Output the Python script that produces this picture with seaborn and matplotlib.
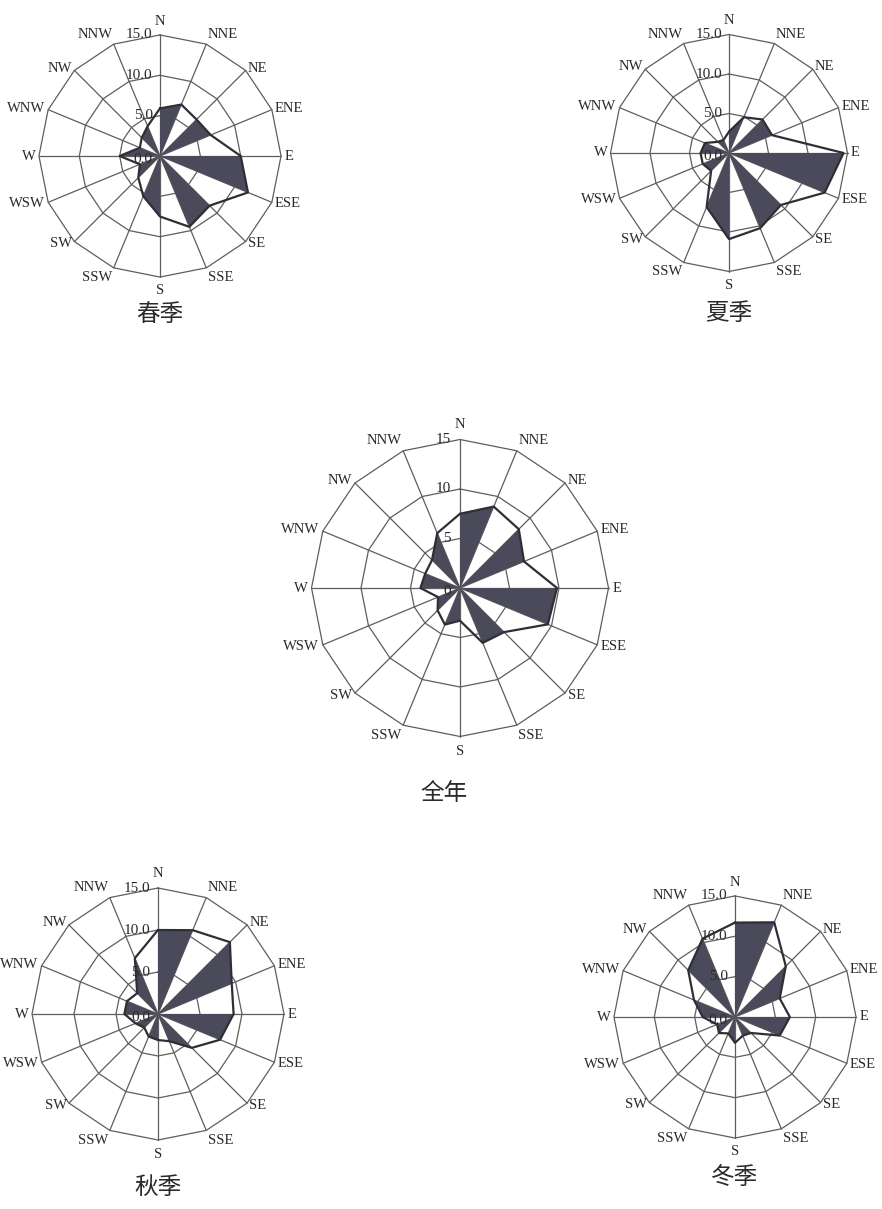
import numpy as np
import pandas as pd
import matplotlib
matplotlib.use("Agg")
import matplotlib.pyplot as plt
import seaborn as sns

# 16 wind directions, clockwise from north
directions = ['N', 'NNE', 'NE', 'ENE', 'E', 'ESE', 'SE', 'SSE',
              'S', 'SSW', 'SW', 'WSW', 'W', 'WNW', 'NW', 'NNW']

# wind frequency (%)
spring = [5.9, 6.9, 6.4, 6.8, 10.0, 11.8, 8.7, 9.5, 7.5, 5.4, 3.8, 2.7, 5.0, 2.7, 3.2, 4.0]
summer = [2.7, 4.9, 6.0, 5.9, 14.5, 13.1, 9.3, 10.3, 10.9, 7.4, 3.2, 3.6, 3.6, 3.3, 2.0, 1.8]
annual = [7.5, 8.9, 8.4, 7.0, 9.8, 9.6, 6.3, 6.0, 3.3, 4.0, 3.2, 2.4, 4.0, 3.8, 4.0, 6.0]
autumn = [10.0, 10.8, 12.1, 9.5, 9.0, 8.0, 5.7, 3.5, 3.1, 2.9, 2.3, 2.9, 4.0, 4.0, 3.5, 7.2]
winter = [11.7, 12.7, 8.9, 6.0, 6.8, 6.0, 2.8, 2.5, 3.2, 2.2, 2.8, 2.4, 4.0, 5.5, 8.2, 10.5]

seasons = ['春季', '夏季', '全年', '秋季', '冬季']
ring_values = [5, 10, 15]

sns.set_theme(style="white")
plt.rcParams['font.family'] = ['Liberation Serif', 'DejaVu Serif']

W, H = 882, 1209
fig = plt.figure(figsize=(W / 100, H / 100), dpi=100)

FILL = '#4a4a5b'
LINE = '#2e2e36'
GRID = '#5e5e5e'
TXT = '#2a2a2a'


def rose(values, title, cx, cy, scale, title_r, title_dx=0.0, decimals=True):
    half = 21
    size = 2 * half * scale
    ax = fig.add_axes([(cx - size / 2) / W, 1 - (cy + size / 2) / H, size / W, size / H])
    ax.set_xlim(-half, half)
    ax.set_ylim(-half, half)
    ax.set_aspect('equal')
    ax.axis('off')

    theta = np.deg2rad(np.arange(16) * 22.5)
    sx, cy_ = np.sin(theta), np.cos(theta)

    # polygon grid rings and spokes
    for rv in ring_values:
        ax.plot(np.append(rv * sx, rv * sx[0]), np.append(rv * cy_, rv * cy_[0]),
                color=GRID, lw=0.9, zorder=1)
    for i in range(16):
        ax.plot([0, 15 * sx[i]], [0, 15 * cy_[i]], color=GRID, lw=0.9, zorder=1)

    r = np.asarray(values)
    px, py = r * sx, r * cy_
    # alternate filled triangles between neighbouring directions
    for i in range(0, 16, 2):
        j = (i + 1) % 16
        ax.fill([0, px[i], px[j]], [0, py[i], py[j]], color=FILL, lw=0, zorder=2)

    df = pd.DataFrame({'x': np.append(px, px[0]), 'y': np.append(py, py[0])})
    sns.lineplot(data=df, x='x', y='y', sort=False, estimator=None, ax=ax,
                 color=LINE, lw=1.6, zorder=3)
    ax.set_xlabel('')
    ax.set_ylabel('')

    # ring labels
    for rv in [0] + ring_values:
        lab = f'{rv:.1f}' if decimals else f'{rv}'
        yy = rv if rv else -0.4
        ax.text(-0.9, yy, lab, ha='right', va='center', fontsize=11, color=TXT, zorder=4)

    # direction labels
    for i, d in enumerate(directions):
        s, c = sx[i], cy_[i]
        ha = 'left' if s > 0.2 else ('right' if s < -0.2 else 'center')
        va = 'bottom' if c > 0.9 else ('top' if c < -0.9 else 'center')
        rr = 15.4 if abs(s) > 0.2 else 15.9
        ax.text(rr * s, rr * c, d, ha=ha, va=va, fontsize=10.5, color=TXT)

    ax.text(title_dx, -title_r, title, ha='center', va='center', fontsize=17,
            color=TXT, family=['Noto Sans CJK SC', 'DejaVu Sans'], fontweight='light')


rose(spring, seasons[0], 160, 156, 8.07, 19.6)
rose(summer, seasons[1], 729, 153, 7.9, 20.3)
rose(annual, seasons[2], 460, 588, 9.9, 20.8, title_dx=-1.6, decimals=False)
rose(autumn, seasons[3], 158, 1014, 8.4, 20.7)
rose(winter, seasons[4], 735, 1017, 8.07, 19.9)

fig.savefig('out.png', dpi=100, facecolor='white')
